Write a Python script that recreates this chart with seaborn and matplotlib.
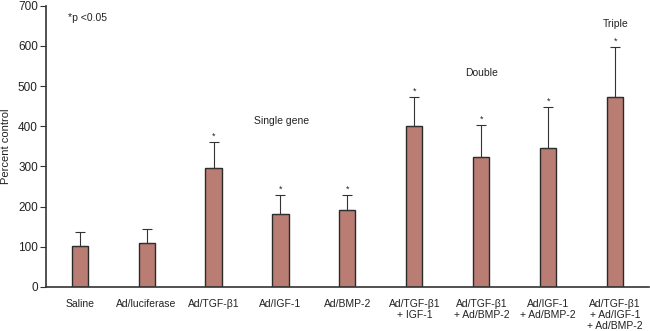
import matplotlib
matplotlib.use("Agg")
import matplotlib.pyplot as plt
import seaborn as sns
import numpy as np
import pandas as pd

categories = [
    "Saline", "Ad/luciferase", "Ad/TGF-β1", "Ad/IGF-1", "Ad/BMP-2",
    "Ad/TGF-β1\n+ IGF-1", "Ad/TGF-β1\n+ Ad/BMP-2", "Ad/IGF-1\n+ Ad/BMP-2",
    "Ad/TGF-β1\n+ Ad/IGF-1\n+ Ad/BMP-2",
]
means = [102, 110, 297, 181, 192, 400, 323, 347, 472]
upper_err = [34, 35, 63, 49, 38, 73, 79, 100, 125]
significant = [False, False, True, True, True, True, True, True, True]

sns.set_style("white")
plt.rcParams["font.family"] = ["Liberation Sans", "DejaVu Sans"]

df = pd.DataFrame({"group": categories, "value": means})

fig = plt.figure(figsize=(6.5, 3.31), dpi=100)
ax = fig.add_axes([0.071, 0.133, 0.927, 0.85])

bar_color = "#b97d74"
edge = "#2a2a2a"
sns.barplot(data=df, x="group", y="value", color=bar_color, width=0.24,
            saturation=1, edgecolor=edge, linewidth=1.0, errorbar=None, ax=ax)

x = np.arange(len(categories))
ax.errorbar(x, means, yerr=[np.zeros(len(means)), upper_err], fmt="none",
            ecolor="#333333", elinewidth=0.8, capsize=3.5, capthick=0.8, zorder=1)

for xi, m, e, s in zip(x, means, upper_err, significant):
    if s:
        ax.text(xi, m + e + 3, "*", ha="center", va="bottom", fontsize=6.5, color="#222222")

ax.set_xlim(-0.5, len(categories) - 0.5)
ax.set_ylim(0, 700)
ax.set_yticks(np.arange(0, 701, 100))
ax.set_xticks(x)
ax.set_xticklabels(categories, fontsize=7.5, color="#222222", linespacing=1.1)
ax.tick_params(axis="x", which="major", length=0, pad=9)
ax.set_xticks(np.arange(-0.5, len(categories), 1.0), minor=True)
ax.tick_params(axis="x", which="minor", length=4, width=0.8, direction="out", color="#333333")
ax.tick_params(axis="y", length=4, width=0.8, direction="out", color="#333333",
               labelsize=8.5, labelcolor="#222222", left=True, pad=2)

ax.set_xlabel("")
ax.set_ylabel("Percent control", fontsize=8, color="#222222", labelpad=5)

for side in ("top", "right"):
    ax.spines[side].set_visible(False)
for side in ("left", "bottom"):
    ax.spines[side].set_color("#333333")
    ax.spines[side].set_linewidth(1.2)

ax.text(-0.17, 670, "*p <0.05", fontsize=7.5, color="#222222", va="center", ha="left")
ax.text(3.02, 414, "Single gene", fontsize=7.5, color="#222222", ha="center", va="center")
ax.text(6.0, 533, "Double", fontsize=7.5, color="#222222", ha="center", va="center")
ax.text(8.0, 654, "Triple", fontsize=7.5, color="#222222", ha="center", va="center")

fig.savefig("out.png", dpi=100)
